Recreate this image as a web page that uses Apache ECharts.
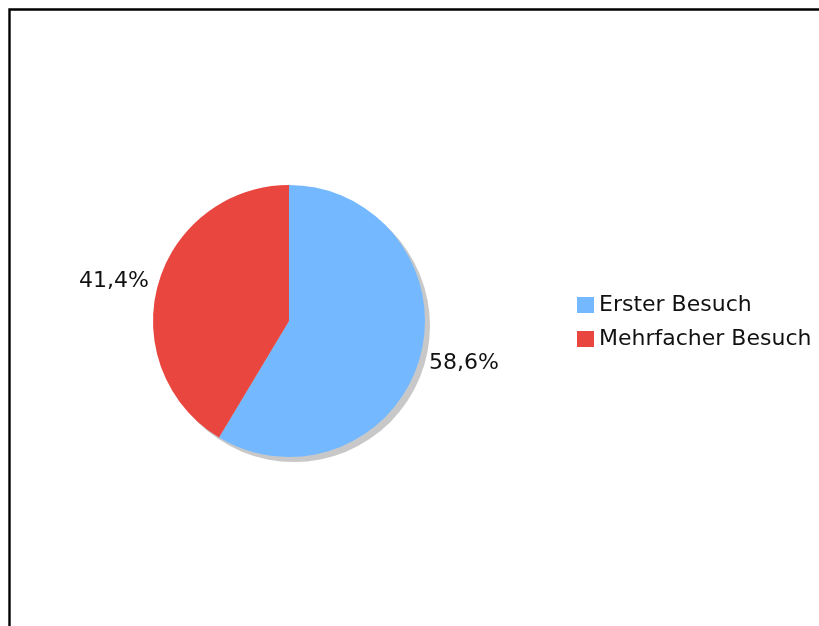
<!DOCTYPE html>
<html>
<head>
<meta charset="utf-8">
<script src="https://cdn.jsdelivr.net/npm/echarts@6/dist/echarts.min.js"></script>
<style>
  html, body { margin: 0; padding: 0; background: #ffffff; }
  #chart { width: 819px; height: 626px; }
</style>
</head>
<body>
<div id="chart"></div>
<script>
// Besuchsart: Anteil Erst- und Mehrfachbesucher (in Prozent)
const categories = ['Erster Besuch', 'Mehrfacher Besuch'];
const shares = [58.6, 41.4];
const colors = ['#74b9ff', '#e8463f'];

const FONT = '"DejaVu Sans", Verdana, sans-serif';
const CENTER = [289, 321];
const RADIUS = 136;

const pieData = categories.map((name, i) => ({
  name: name,
  value: shares[i],
  itemStyle: { color: colors[i] }
}));

const chart = echarts.init(document.getElementById('chart'), null, { renderer: 'canvas' });

chart.setOption({
  backgroundColor: '#ffffff',
  animation: false,
  textStyle: { fontFamily: FONT },
  graphic: [{
    type: 'rect',
    silent: true,
    shape: { x: 9.5, y: 9.5, width: 900, height: 700 },
    style: { fill: 'none', stroke: '#000000', lineWidth: 2.4 }
  }],
  legend: {
    orient: 'vertical',
    left: 572,
    top: 289,
    data: categories,
    icon: 'rect',
    itemWidth: 17,
    itemHeight: 16,
    itemGap: 12,
    selectedMode: false,
    textStyle: { fontFamily: FONT, fontSize: 22, color: '#111111' }
  },
  series: [
    {
      // flat drop shadow under the pie
      type: 'pie',
      silent: true,
      z: 1,
      center: [CENTER[0] + 5, CENTER[1] + 5],
      radius: RADIUS,
      label: { show: false },
      labelLine: { show: false },
      data: [{ name: '', value: 1, itemStyle: { color: '#c8c8c8' } }]
    },
    {
      type: 'pie',
      z: 2,
      center: CENTER,
      radius: RADIUS,
      startAngle: 90,
      clockwise: true,
      avoidLabelOverlap: false,
      itemStyle: { borderWidth: 0 },
      label: {
        show: true,
        position: 'outside',
        fontFamily: FONT,
        fontSize: 22,
        color: '#111111',
        distanceToLabelLine: 9,
        formatter: p => p.value.toFixed(1).replace('.', ',') + '%'
      },
      labelLine: { show: false, length: 0, length2: 0 },
      labelLayout: p => ({ dy: p.dataIndex === 0 ? 6 : -3 }),
      emphasis: { disabled: true },
      data: pieData
    }
  ]
});
</script>
</body>
</html>
